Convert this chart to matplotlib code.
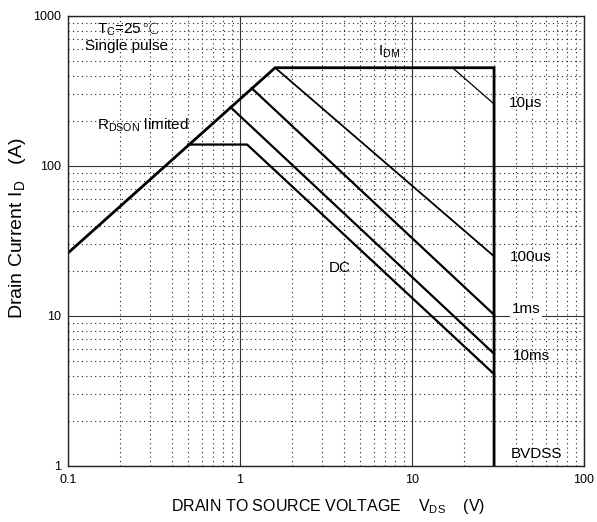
import matplotlib
matplotlib.use("Agg")
import matplotlib.pyplot as plt

plt.rcParams["font.family"] = ["Liberation Sans", "DejaVu Sans"]
plt.rcParams["mathtext.fontset"] = "custom"
plt.rcParams["mathtext.rm"] = "Liberation Sans"
plt.rcParams["mathtext.it"] = "Liberation Sans"

# safe operating area curves (V, A)
boundary_v = [0.1, 1.6, 30, 30]
boundary_i = [26.3, 452, 452, 1]
us10_v = [17.2, 30]
us10_i = [452, 259]
us100_v = [1.6, 30]
us100_i = [452, 25]
ms1_v = [1.17, 30]
ms1_i = [330, 10.2]
ms10_v = [0.88, 30]
ms10_i = [247, 5.6]
dc_v = [0.5, 1.1, 30]
dc_i = [139, 139, 4.1]

x_ticks = [0.1, 1, 10, 100]
x_labels = ["0.1", "1", "10", "100"]
y_ticks = [1, 10, 100, 1000]
y_labels = ["1", "10", "100", "1000"]

fig = plt.figure(figsize=(5.97, 5.22), dpi=100)
ax = fig.add_axes([68 / 597, 1 - 466 / 522, 516 / 597, 450 / 522])
ax.set_xscale("log")
ax.set_yscale("log")
ax.set_xlim(0.1, 100)
ax.set_ylim(1, 1000)

ax.grid(which="major", color="#333333", linestyle="-", linewidth=0.8)
ax.grid(which="minor", color="#222222", linestyle=(0, (1, 3)), linewidth=0.8)
ax.set_axisbelow(True)

ax.set_xticks(x_ticks)
ax.set_xticklabels(x_labels)
ax.set_yticks(y_ticks)
ax.set_yticklabels(y_labels)
ax.tick_params(which="both", length=0, labelsize=9)
ax.tick_params(axis="x", pad=6)
ax.tick_params(axis="y", pad=5)
for s in ax.spines.values():
    s.set_linewidth(1.0)
    s.set_color("#222222")

ax.plot(boundary_v, boundary_i, color="black", lw=2.0, solid_joinstyle="miter")
ax.plot(us10_v, us10_i, color="black", lw=0.9)
ax.plot(us100_v, us100_i, color="black", lw=1.3)
ax.plot(ms1_v, ms1_i, color="black", lw=1.6)
ax.plot(ms10_v, ms10_i, color="black", lw=1.6)
ax.plot(dc_v, dc_i, color="black", lw=1.6)

fs = 11
t1 = ax.text(0.056, 0.969, r"T$_\mathrm{C}$=25", transform=ax.transAxes,
             fontsize=fs, va="center", ha="left")
ax.annotate("\u2103", xy=(1, 0.55), xycoords=t1, fontsize=fs, va="center",
            ha="left", family=["DejaVu Sans"], fontweight="light")
ax.text(0.033, 0.933, "Single pulse", transform=ax.transAxes, fontsize=fs,
        va="center", ha="left")
ax.text(0.601, 0.92, r"I$_\mathrm{DM}$", transform=ax.transAxes, fontsize=fs,
        va="center", ha="left")
ax.text(0.855, 0.807, "10\u03bcs", transform=ax.transAxes, fontsize=fs,
        va="center", ha="left")
ax.text(0.056, 0.758, r"R$_\mathrm{DSON}$ limited", transform=ax.transAxes,
        fontsize=fs, va="center", ha="left")
ax.text(0.857, 0.464, "100us", transform=ax.transAxes, fontsize=fs,
        va="center", ha="left")
ax.text(0.506, 0.44, "DC", transform=ax.transAxes, fontsize=fs,
        va="center", ha="left")
ax.text(0.860, 0.349, "1ms", transform=ax.transAxes, fontsize=fs,
        va="center", ha="left",
        bbox=dict(facecolor="white", edgecolor="none", pad=1))
ax.text(0.862, 0.244, "10ms", transform=ax.transAxes, fontsize=fs,
        va="center", ha="left")
ax.text(0.859, 0.027, "BVDSS", transform=ax.transAxes, fontsize=fs,
        va="center", ha="left")

fig.text(18 / 597, 1 - 228 / 522, r"Drain Current I$_\mathrm{D}$   (A)",
         rotation=90, fontsize=14, va="center", ha="center")
fig.text(328 / 597, 1 - 507 / 522,
         r"DRAIN TO SOURCE VOLTAGE    V$_\mathrm{DS}$    (V)",
         fontsize=11.5, va="center", ha="center")

fig.savefig("out.png", dpi=100)
